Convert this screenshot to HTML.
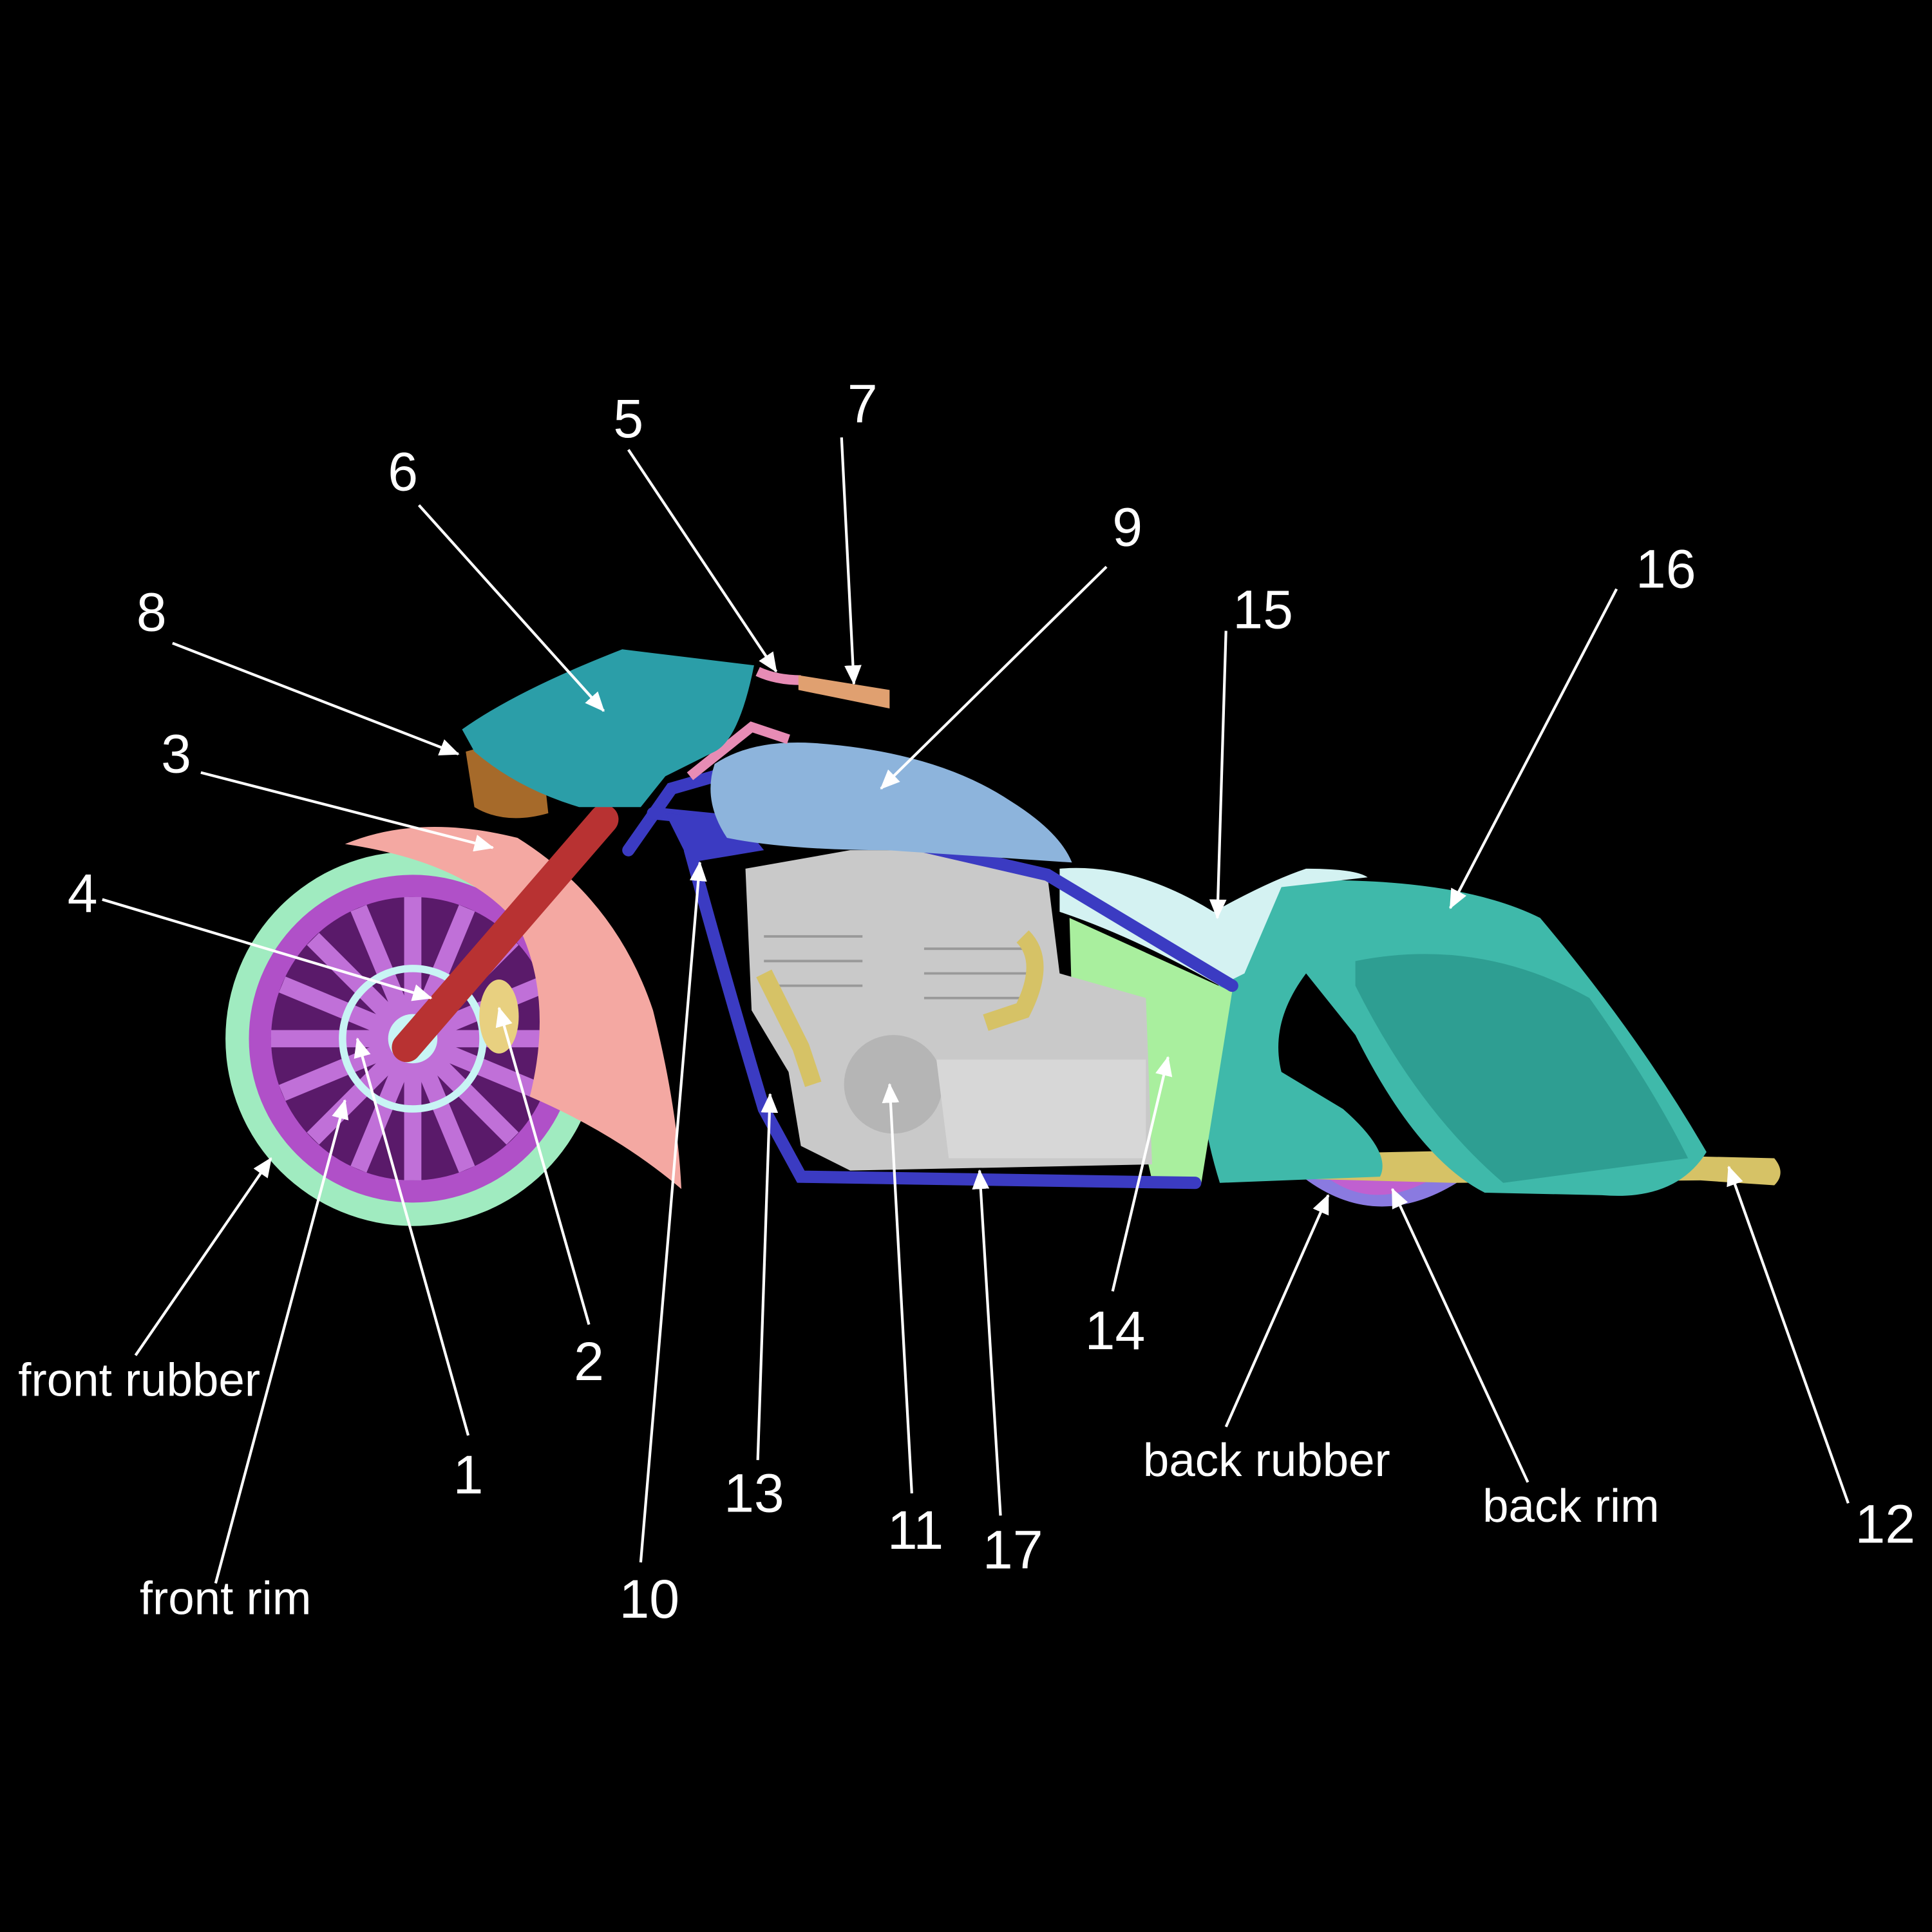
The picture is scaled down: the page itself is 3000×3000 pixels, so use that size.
<!DOCTYPE html>
<html><head><meta charset="utf-8"><style>
html,body{margin:0;padding:0;background:#000;}
svg{display:block;}
text{font-family:"Liberation Sans",sans-serif;fill:#fff;}
</style></head><body>
<svg width="3000" height="3000" viewBox="0 0 1568 1568" xmlns="http://www.w3.org/2000/svg">
<defs>
<marker id="a" markerWidth="8" markerHeight="8" refX="7" refY="4" orient="auto" markerUnits="userSpaceOnUse" viewBox="0 0 8 8">
<path d="M0,0 L8,4 L0,8 z" fill="#fff"/></marker>
<marker id="b" markerWidth="16" markerHeight="14" refX="15" refY="7" orient="auto" markerUnits="userSpaceOnUse">
<path d="M0,0 L16,7 L0,14 z" fill="#fff"/></marker>
</defs>
<rect width="1568" height="1568" fill="#000"/>

<!-- back wheel -->
<path d="M1040,940 Q1110,1010 1190,955 Z" fill="#8a7ae0"/>
<path d="M1070,950 Q1110,985 1160,958 Z" fill="#c060d0"/>
<!-- exhaust -->
<path d="M985,938 L1180,934 L1440,940 Q1450,952 1440,962 L1380,958 L1180,960 L990,955 Z" fill="#d6c266"/>
<!-- saddlebag -->
<path d="M1040,715 Q1180,710 1250,745 Q1330,840 1385,935 Q1360,975 1300,970 L1205,968 Q1150,940 1100,840 L1060,790 Q1030,830 1040,870 L1090,900 Q1130,935 1120,955 L990,960 Q965,880 980,820 Q1010,750 1040,715 Z" fill="#3fb9aa"/>
<path d="M1100,780 Q1200,760 1290,810 Q1340,880 1370,940 L1220,960 Q1150,900 1100,800 Z" fill="#2e9e92"/>
<!-- seat -->
<path d="M860,705 Q920,700 985,740 Q1030,715 1060,705 Q1100,705 1110,712 L1040,720 L1010,790 L990,800 Q920,760 860,740 Z" fill="#d4f2f2"/>
<!-- side cover -->
<path d="M868,745 L1000,805 L975,960 L935,958 L915,870 L930,830 L870,815 Z" fill="#a9ef9e"/>
<!-- engine -->
<path d="M605,705 L690,690 L720,690 L760,690 L850,710 L860,790 L930,810 L935,945 L690,950 L650,930 L640,870 L610,820 Z" fill="#c9c9c9"/>
<circle cx="725" cy="880" r="40" fill="#b5b5b5"/>
<path d="M760,860 L930,860 L930,940 L770,940 Z" fill="#d7d7d7"/>
<g stroke="#999" stroke-width="2">
<line x1="620" y1="760" x2="700" y2="760"/><line x1="620" y1="780" x2="700" y2="780"/><line x1="620" y1="800" x2="700" y2="800"/>
<line x1="750" y1="770" x2="840" y2="770"/><line x1="750" y1="790" x2="840" y2="790"/><line x1="750" y1="810" x2="840" y2="810"/>
</g>
<path d="M620,790 L650,850 L660,880" stroke="#d6c266" stroke-width="14" fill="none"/>
<path d="M830,760 Q850,780 830,820 L800,830" stroke="#d6c266" stroke-width="14" fill="none"/>
<!-- frame -->
<g stroke="#3b3bc2" stroke-width="10" fill="none" stroke-linecap="round">
<path d="M510,690 L545,640 L580,630"/>
<path d="M530,660 L580,665 L640,675 L720,680 L850,710 L1000,800"/>
<path d="M560,690 Q590,800 620,900 L650,955 L970,960"/>
</g>
<path d="M540,660 L600,665 L620,690 L560,700 Z" fill="#3b3bc2"/>
<!-- tank -->
<path d="M580,620 Q610,600 660,603 Q760,610 820,650 Q860,675 870,700 L720,690 Q640,690 590,680 Q570,650 580,620 Z" fill="#8db4dc"/>
<!-- handlebar -->
<path d="M560,630 L610,590 L640,600" stroke="#e78cb5" stroke-width="8" fill="none"/>
<path d="M615,545 Q630,552 650,552" stroke="#e78cb5" stroke-width="8" fill="none"/>
<path d="M648,548 L722,560 L722,575 L648,560 Z" fill="#e0a070"/>
<!-- front wheel -->
<circle cx="335" cy="843" r="152" fill="#a0ebc0"/>
<circle cx="335" cy="843" r="133" fill="#b050c8"/>
<circle cx="335" cy="843" r="115" fill="#5a1a6a"/>
<g stroke="#c070d8" stroke-width="14">
<line x1="335" y1="728" x2="335" y2="958"/><line x1="220" y1="843" x2="450" y2="843"/>
<line x1="254" y1="762" x2="416" y2="924"/><line x1="416" y1="762" x2="254" y2="924"/>
<line x1="291" y1="737" x2="379" y2="949"/><line x1="379" y1="737" x2="291" y2="949"/>
<line x1="229" y1="799" x2="441" y2="887"/><line x1="441" y1="799" x2="229" y2="887"/>
</g>
<circle cx="335" cy="843" r="57" fill="none" stroke="#c8f4f4" stroke-width="6"/>
<circle cx="335" cy="843" r="20" fill="#c8f4f4"/>
<!-- fender -->
<path d="M280,685 Q340,660 420,680 Q500,730 530,820 Q550,900 553,965 Q500,920 430,890 Q450,810 420,750 Q380,700 280,685 Z" fill="#f4a8a2"/>
<ellipse cx="405" cy="825" rx="16" ry="30" fill="#e8d080"/>
<!-- fork -->
<line x1="330" y1="850" x2="490" y2="665" stroke="#b83232" stroke-width="24" stroke-linecap="round"/>
<!-- headlight -->
<path d="M378,610 Q410,600 440,615 L445,660 Q410,670 385,655 Z" fill="#a66a2a"/>
<!-- fairing -->
<path d="M375,592 Q420,560 505,527 L612,540 Q600,600 580,610 L540,630 L520,655 L470,655 Q420,640 385,610 Z" fill="#2b9ea8"/>

<!-- leader lines -->
<g stroke="#fff" stroke-width="2.2" fill="none" marker-end="url(#b)">
<line x1="510" y1="365" x2="630" y2="545"/>
<line x1="683" y1="355" x2="693" y2="555"/>
<line x1="340" y1="410" x2="490" y2="577"/>
<line x1="898" y1="460" x2="715" y2="640"/>
<line x1="995" y1="512" x2="988" y2="745"/>
<line x1="1312" y1="478" x2="1177" y2="737"/>
<line x1="140" y1="522" x2="372" y2="612"/>
<line x1="163" y1="627" x2="400" y2="688"/>
<line x1="83" y1="730" x2="350" y2="810"/>
<line x1="110" y1="1100" x2="220" y2="940"/>
<line x1="175" y1="1285" x2="280" y2="893"/>
<line x1="380" y1="1165" x2="290" y2="843"/>
<line x1="478" y1="1075" x2="405" y2="818"/>
<line x1="520" y1="1268" x2="568" y2="700"/>
<line x1="615" y1="1185" x2="625" y2="888"/>
<line x1="740" y1="1212" x2="722" y2="880"/>
<line x1="812" y1="1230" x2="795" y2="950"/>
<line x1="903" y1="1048" x2="948" y2="858"/>
<line x1="995" y1="1158" x2="1078" y2="970"/>
<line x1="1240" y1="1203" x2="1130" y2="965"/>
<line x1="1500" y1="1220" x2="1403" y2="947"/>
</g>

<g font-size="44" text-anchor="middle">
<text x="510" y="355">5</text>
<text x="700" y="343">7</text>
<text x="327" y="398">6</text>
<text x="915" y="443">9</text>
<text x="1025" y="510">15</text>
<text x="1352" y="477">16</text>
<text x="123" y="512">8</text>
<text x="143" y="627">3</text>
<text x="67" y="740">4</text>
<text x="380" y="1212">1</text>
<text x="478" y="1120">2</text>
<text x="527" y="1313">10</text>
<text x="612" y="1227">13</text>
<text x="743" y="1257">11</text>
<text x="822" y="1273">17</text>
<text x="905" y="1095">14</text>
<text x="1530" y="1252">12</text>
</g>
<g font-size="38" text-anchor="middle">
<text x="113" y="1133">front rubber</text>
<text x="183" y="1310">front rim</text>
<text x="1028" y="1198">back rubber</text>
<text x="1275" y="1235">back rim</text>
</g>
</svg>
</body></html>
